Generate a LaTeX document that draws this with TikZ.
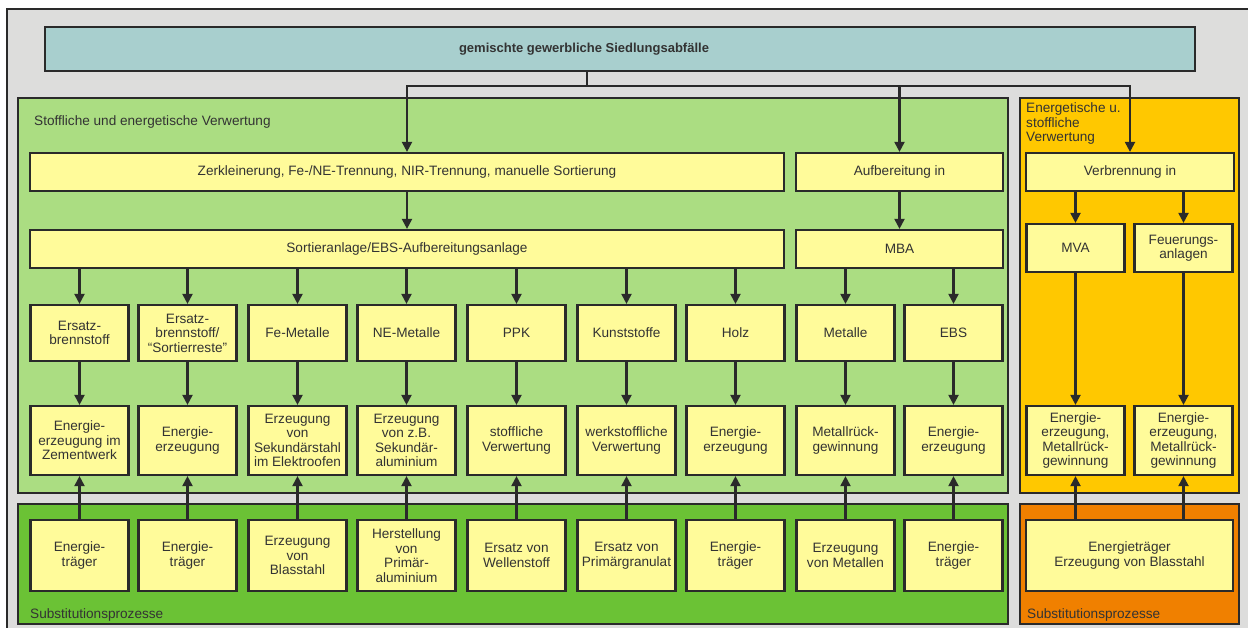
\documentclass[tikz,border=0pt]{standalone}
\usepackage{fontspec}
\setmainfont{Liberation Sans}
\usetikzlibrary{arrows.meta}
\definecolor{bggray}{HTML}{DDDDDC}
\definecolor{tealbox}{HTML}{A8CFCE}
\definecolor{lgreen}{HTML}{ABDD82}
\definecolor{yfill}{HTML}{FFFB9A}
\definecolor{orng}{HTML}{FFC800}
\definecolor{dgreen}{HTML}{6BC235}
\definecolor{dorng}{HTML}{F08000}
\definecolor{lineclr}{HTML}{2A2A2A}
\definecolor{txt}{HTML}{333333}
\begin{document}
\begin{tikzpicture}[x=1pt,y=-1pt,
  region/.style={draw=lineclr, line width=1.8pt},
  box/.style={draw=lineclr, line width=2.2pt, fill=yfill, inner sep=0pt, align=center, text=txt, font=\fontsize{13.6}{14.5}\selectfont},
  sbox/.style={box, minimum width=98pt},
  arr/.style={draw=lineclr, line width=2.1pt, -{Triangle[length=10pt,width=10pt]}},
  conn/.style={draw=lineclr, line width=2.1pt},
  lbl/.style={text=txt, font=\fontsize{13.6}{14.5}\selectfont, inner sep=0pt, align=left}]
\useasboundingbox (0,0) rectangle (1248,628);
% regions
\draw[region, fill=bggray] (7,9) rectangle (1254,634);
\draw[region, fill=lgreen] (18,98) rectangle (1008,493);
\draw[region, fill=orng] (1020,98) rectangle (1239,493);
\draw[region, fill=dgreen] (18,504) rectangle (1008,624);
\draw[region, fill=dorng] (1020,504) rectangle (1239,624);
% region labels
\node[lbl, anchor=base west] (lstoff) at (34,126) {Stoffliche und energetische Verwertung};
\node[lbl, anchor=north west] (lenerg) at (1026,102.5) {Energetische u.\\stoffliche\\Verwertung};
\node[lbl, anchor=base west] (lsub1) at (30,618) {Substitutionsprozesse};
\node[lbl, anchor=base west] (lsub2) at (1027,618) {Substitutionsprozesse};
% top box
\node[box, fill=tealbox, minimum width=1150pt, minimum height=44pt] (top) at (620,49) {};
\node[text=txt, inner sep=0pt, font=\bfseries\fontsize{13}{14}\selectfont] (toptext) at (584,49) {gemischte gewerbliche Siedlungsabfälle};
% row 1 and 2
\node[box, minimum width=754pt, minimum height=38pt] (zerk) at (407,172) {Zerkleinerung, Fe-/NE-Trennung, NIR-Trennung, manuelle Sortierung};
\node[box, minimum width=207pt, minimum height=38pt] (aufb) at (899.5,172) {Aufbereitung in};
\node[box, minimum width=208pt, minimum height=38pt] (verb) at (1130,172) {Verbrennung in};
\node[box, minimum width=754pt, minimum height=38pt] (sort) at (407,249) {Sortieranlage/EBS-Aufbereitungsanlage};
\node[box, minimum width=207pt, minimum height=38pt] (mba) at (899.5,249) {MBA};
\node[sbox, minimum height=48pt] (mva) at (1075.5,248) {MVA};
\node[sbox, minimum height=48pt] (feu) at (1183.5,248) {Feuerungs-\\anlagen};
% row 3
\foreach \n/\x/\t in {1/79.5/{Ersatz-\\brennstoff}, 2/187.5/{Ersatz-\\brennstoff/\\“Sortierreste”}, 3/297.5/{Fe-Metalle}, 4/406.5/{NE-Metalle}, 5/516.5/{PPK}, 6/626.5/{Kunststoffe}, 7/735.5/{Holz}, 8/845.5/{Metalle}, 9/953.5/{EBS}}
  \node[sbox, minimum height=56pt] (rc\n) at (\x,333) {\t};
% row 4
\foreach \n/\x/\t in {1/79.5/{Energie-\\erzeugung im\\Zementwerk}, 2/187.5/{Energie-\\erzeugung}, 3/297.5/{Erzeugung\\von\\Sekundärstahl\\im Elektroofen}, 4/406.5/{Erzeugung\\von z.B.\\Sekundär-\\aluminium}, 5/516.5/{stoffliche\\Verwertung}, 6/626.5/{werkstoffliche\\Verwertung}, 7/735.5/{Energie-\\erzeugung}, 8/845.5/{Metallrück-\\gewinnung}, 9/953.5/{Energie-\\erzeugung}, 10/1075.5/{Energie-\\erzeugung,\\Metallrück-\\gewinnung}, 11/1183.5/{Energie-\\erzeugung,\\Metallrück-\\gewinnung}}
  \node[sbox, minimum height=69pt] (rd\n) at (\x,440.5) {\t};
% row 5
\foreach \n/\x/\t in {1/79.5/{Energie-\\träger}, 2/187.5/{Energie-\\träger}, 3/297.5/{Erzeugung\\von\\Blasstahl}, 4/406.5/{Herstellung\\von\\Primär-\\aluminium}, 5/516.5/{Ersatz von\\Wellenstoff}, 6/626.5/{Ersatz von\\Primärgranulat}, 7/735.5/{Energie-\\träger}, 8/845.5/{Erzeugung\\von Metallen}, 9/953.5/{Energie-\\träger}}
  \node[sbox, minimum height=71pt] (re\n) at (\x,555.5) {\t};
\node[box, minimum width=207pt, minimum height=71pt] (reo) at (1129.5,555.5) {Energieträger\\Erzeugung von Blasstahl};
% connectors
\coordinate (j) at (587,86);
\draw[conn] (top.south -| j) -- (j);
\draw[arr] (j) -| (zerk.north);
\draw[arr] (j) -| (verb.north);
\draw[arr] (aufb.north |- j) -- (aufb.north);
\draw[arr] (zerk) -- (sort);
\draw[arr] (aufb) -- (mba);
\draw[arr] (verb.south -| mva) -- (mva.north);
\draw[arr] (verb.south -| feu) -- (feu.north);
\foreach \n in {1,...,7} \draw[arr] (sort.south -| rc\n) -- (rc\n.north);
\foreach \n in {8,9} \draw[arr] (mba.south -| rc\n) -- (rc\n.north);
\foreach \n in {1,...,9} {
  \draw[arr] (rc\n) -- (rd\n);
  \draw[arr] (re\n) -- (rd\n);
}
\draw[arr] (mva) -- (rd10);
\draw[arr] (feu) -- (rd11);
\draw[arr] (reo.north -| rd10) -- (rd10.south);
\draw[arr] (reo.north -| rd11) -- (rd11.south);
\end{tikzpicture}
\end{document}
